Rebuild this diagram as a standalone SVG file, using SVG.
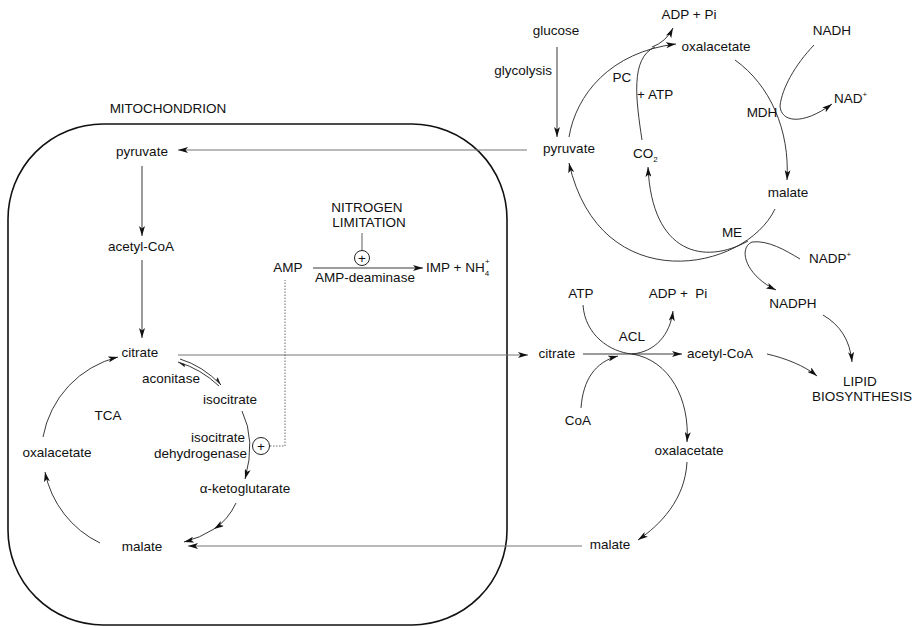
<svg xmlns="http://www.w3.org/2000/svg" width="918" height="627" viewBox="0 0 918 627">
<defs>
<marker id="ah" viewBox="0 0 10 6" refX="10" refY="3" markerWidth="10" markerHeight="6" orient="auto" markerUnits="userSpaceOnUse"><path d="M0,0 L10,3 L0,6 L2.5,3 z" fill="#111"/></marker>
<marker id="hp" viewBox="0 0 8 4" refX="8" refY="3" markerWidth="8" markerHeight="4" orient="auto" markerUnits="userSpaceOnUse"><path d="M0,0 L8,3 L1,3 z" fill="#222"/></marker>
</defs>
<style>
text{font-family:"Liberation Sans",Arial,sans-serif;font-size:13.5px;fill:#111}
.c{text-anchor:middle}
.e{text-anchor:end}
.l{fill:none;stroke:#222;stroke-width:0.9}
.g{fill:none;stroke:#777;stroke-width:1.2}
.a{marker-end:url(#ah)}
.d{fill:none;stroke:#444;stroke-width:0.8;stroke-dasharray:1.5,1.5}
.box{fill:none;stroke:#111;stroke-width:1.6}
.pc{fill:#fff;stroke:#222;stroke-width:1}
</style>
<g id="mitochondrion">
<rect class="box" x="8" y="124" width="499" height="501" rx="95" ry="95"/>
<text class="c" x="168" y="113">MITOCHONDRION</text>
</g>
<g id="connectors">
<path class="g a" d="M527,150 H178"/>
<path class="l a" d="M142,166 V236"/>
<path class="l a" d="M142,260 V338"/>
<path class="g a" d="M178,355 H528"/>
<path class="l" d="M180,359 Q203,366 221,385" marker-end="url(#hp)"/>
<path class="l" d="M219,386 Q201,369 178,362" marker-end="url(#hp)"/>
<path class="l a" d="M242,411 Q256,440 245,479"/>
<path class="d" d="M270,446 H285 V280"/>
<path class="l a" d="M236,503 Q228,520 214,529"/>
<path class="l a" d="M214,529 Q200,538 184,542"/>
<path class="g a" d="M582,546 H188"/>
<path class="l a" d="M100,543 A101,101 0 0 1 45,472"/>
<path class="l a" d="M43,437 A101,101 0 0 1 118,357"/>
<path class="g" d="M362,233 V250.5"/>
<path class="l a" d="M313,268 H423"/>
<path class="l a" d="M557,47 V137"/>
<path class="l a" d="M569,137 C576,95 610,52 676,44"/>
<path class="l a" d="M652,47 Q666,42 673,28"/>
<path class="l" d="M642,140 C636,100 630,58 655,47"/>
<path class="l a" d="M735,60 C770,85 790,130 787,180"/>
<path class="l a" d="M814,45 C795,65 782,88 780,106 C781,122 802,126 832,104"/>
<path class="l a" d="M775,209 C745,272 600,300 569,163"/>
<path class="l a" d="M748,241 C705,265 652,255 648,167"/>
<path class="l a" d="M800,259 C785,250 768,240 752,242 C738,248 745,275 776,290"/>
<path class="l a" d="M823,315 C840,325 850,340 852,362"/>
<path class="l a" d="M583,354 H682"/>
<path class="l" d="M583,305 C585,335 610,352 632,354"/>
<path class="l a" d="M632,354 C655,352 670,335 673,311"/>
<path class="l a" d="M581,408 C583,380 595,362 618,356"/>
<path class="l a" d="M632,354 C670,360 690,400 687,442"/>
<path class="l a" d="M687,462 C685,500 660,525 638,540"/>
<path class="l a" d="M767,354 C785,358 805,366 817,376"/>
</g>
<g id="pyruvate-mito"><text class="c" x="142" y="156">pyruvate</text></g>
<g id="acetylcoa-mito"><text class="c" x="141" y="251">acetyl-CoA</text></g>
<g id="citrate-mito"><text class="c" x="140" y="357">citrate</text></g>
<g id="aconitase"><text class="c" x="171" y="383">aconitase</text></g>
<g id="isocitrate"><text class="c" x="230" y="404">isocitrate</text></g>
<g id="idh"><text class="e" x="245" y="442">isocitrate</text><text class="e" x="247" y="458">dehydrogenase</text><circle class="pc" cx="261" cy="446" r="8.5"/><text class="c" x="261" y="451">+</text></g>
<g id="akg"><text class="c" x="245" y="493">α-ketoglutarate</text></g>
<g id="malate-mito"><text class="c" x="142" y="551">malate</text></g>
<g id="oxalacetate-mito"><text class="c" x="57" y="457">oxalacetate</text></g>
<g id="tca"><text class="c" x="108" y="420">TCA</text></g>
<g id="nitrogen"><text class="c" x="367" y="212">NITROGEN</text><text class="c" x="369" y="227">LIMITATION</text><circle class="pc" cx="362" cy="258" r="7.5"/><text class="c" x="362" y="263">+</text></g>
<g id="amp"><text class="c" x="288" y="272">AMP</text></g>
<g id="ampdeaminase"><text class="c" x="365" y="282">AMP-deaminase</text></g>
<g id="imp"><text x="426" y="272">IMP + NH<tspan font-size="8" dy="4">4</tspan><tspan font-size="8" dx="-4" dy="-12">+</tspan></text></g>
<g id="glucose"><text class="c" x="556" y="35">glucose</text></g>
<g id="glycolysis"><text class="e" x="552" y="75">glycolysis</text></g>
<g id="pyruvate-cyto"><text class="c" x="569" y="153">pyruvate</text></g>
<g id="adp-top"><text class="c" x="689" y="19">ADP + Pi</text></g>
<g id="oxalacetate-top"><text class="c" x="716" y="51">oxalacetate</text></g>
<g id="pc"><text class="c" x="622" y="82">PC</text></g>
<g id="atp-pc"><text x="637" y="99">+ ATP</text></g>
<g id="co2"><text x="633" y="158">CO<tspan font-size="8" dy="4">2</tspan></text></g>
<g id="mdh"><text class="c" x="762" y="117">MDH</text></g>
<g id="nadh"><text class="c" x="832" y="35">NADH</text></g>
<g id="nad"><text x="834" y="103">NAD<tspan font-size="8" dy="-6">+</tspan></text></g>
<g id="malate-cyto"><text class="c" x="788" y="197">malate</text></g>
<g id="me"><text class="c" x="732" y="237">ME</text></g>
<g id="nadp"><text x="809" y="263">NADP<tspan font-size="8" dy="-6">+</tspan></text></g>
<g id="nadph"><text class="c" x="793" y="308">NADPH</text></g>
<g id="lipid"><text class="c" x="860" y="386">LIPID</text><text class="c" x="862" y="401">BIOSYNTHESIS</text></g>
<g id="citrate-cyto"><text class="c" x="557" y="358">citrate</text></g>
<g id="acetylcoa-cyto"><text class="c" x="720" y="358">acetyl-CoA</text></g>
<g id="atp-acl"><text class="c" x="581" y="298">ATP</text></g>
<g id="adp-acl"><text class="c" x="678" y="298" xml:space="preserve">ADP +  Pi</text></g>
<g id="acl"><text class="c" x="632" y="341">ACL</text></g>
<g id="coa"><text class="c" x="578" y="425">CoA</text></g>
<g id="oxalacetate-cyto"><text class="c" x="689" y="455">oxalacetate</text></g>
<g id="malate-cyto2"><text class="c" x="610" y="549">malate</text></g>
</svg>
